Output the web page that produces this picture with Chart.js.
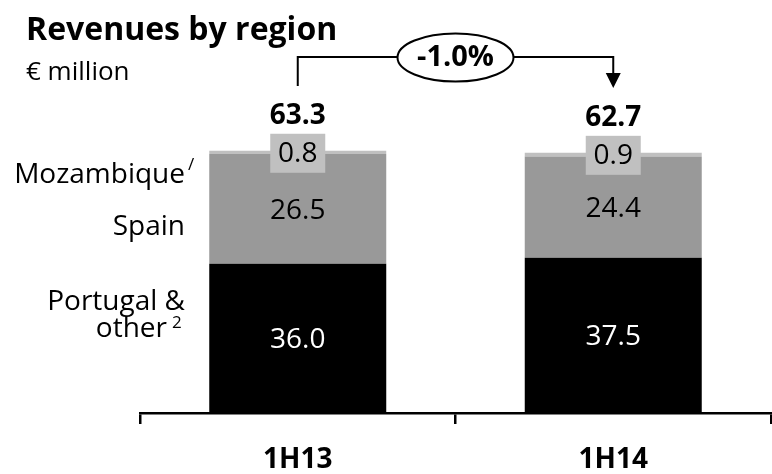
<!DOCTYPE html>
<html>
<head>
<meta charset="utf-8">
<script src="https://cdn.jsdelivr.net/npm/chart.js@4/dist/chart.umd.min.js"></script>
<style>
  html, body { margin: 0; padding: 0; background: #fff; }
  #wrap { position: relative; width: 772px; height: 474px; }
</style>
</head>
<body>
<div id="wrap"><canvas id="c" width="772" height="474"></canvas></div>
<script>
// Half-year revenue split by region (€ million)
const categories = ['1H13', '1H14'];
const portugalOther = [36.0, 37.5];
const spain = [26.5, 24.4];
const mozambique = [0.8, 0.9];
const totals = [63.3, 62.7];
const changeLabel = '-1.0%';
const regionNames = ['Portugal &', 'other', 'Spain', 'Mozambique'];

const FONT = '"Open Sans", "Noto Sans", sans-serif';
const COL_PT = '#000000';
const COL_ES = '#999999';
const COL_MZ = '#c0c0c0';

const fmt = v => v.toFixed(1);

const annotations = {
  id: 'annotations',
  afterDatasetsDraw(chart) {
    const ctx = chart.ctx;
    const y = chart.scales.y;
    const mPT = chart.getDatasetMeta(0).data;
    const mES = chart.getDatasetMeta(1).data;
    const mMZ = chart.getDatasetMeta(2).data;
    ctx.save();
    ctx.textAlign = 'center';
    ctx.textBaseline = 'middle';

    for (let i = 0; i < categories.length; i++) {
      const cx = mPT[i].x;
      // Portugal & other value (white on black)
      ctx.font = '28px ' + FONT;
      ctx.fillStyle = '#ffffff';
      ctx.fillText(fmt(portugalOther[i]), cx, (mPT[i].y + mPT[i].base) / 2 + 2);
      // Spain value
      ctx.fillStyle = '#000000';
      ctx.fillText(fmt(spain[i]), cx, (mES[i].y + mES[i].base) / 2 + 2);
      // Mozambique value on a small light box above the segment
      const top = mMZ[i].y;
      const bw = 55, bh = 39;
      ctx.fillStyle = COL_MZ;
      ctx.fillRect(cx - bw / 2, top - 17, bw, bh);
      ctx.fillStyle = '#000000';
      ctx.fillText(fmt(mozambique[i]), cx, top - 17 + bh / 2 + 1);
      // Total
      const ty = y.getPixelForValue(totals[i]);
      ctx.font = 'bold 28px ' + FONT;
      ctx.textBaseline = 'alphabetic';
      ctx.fillText(fmt(totals[i]), cx, ty - 27);
      ctx.textBaseline = 'middle';
    }

    // Region labels to the left of the first bar
    ctx.textAlign = 'right';
    ctx.textBaseline = 'alphabetic';
    ctx.fillStyle = '#000000';
    ctx.font = '28px ' + FONT;
    const lx = 185;
    ctx.fillText(regionNames[3], lx, 183);
    ctx.fillText(regionNames[2], lx, 235);
    ctx.fillText(regionNames[0], lx, 310);
    const supW = 14;
    ctx.fillText(regionNames[1], lx - supW - 4, 337);
    ctx.font = '17px ' + FONT;
    ctx.textAlign = 'left';
    ctx.fillText('2', lx - supW + 1, 328);
    ctx.fillText('/', lx + 3, 170);

    // Change bracket between the two totals
    const x0 = mPT[0].x, x1 = mPT[1].x;
    const by = 57;
    const ex = (x0 + x1) / 2, rx = 58, ry = 24;
    ctx.strokeStyle = '#000000';
    ctx.lineWidth = 2;
    ctx.beginPath();
    ctx.moveTo(x0, 86);
    ctx.lineTo(x0, by);
    ctx.lineTo(ex - rx, by);
    ctx.moveTo(ex + rx, by);
    ctx.lineTo(x1, by);
    ctx.lineTo(x1, 74);
    ctx.stroke();
    ctx.beginPath();
    ctx.moveTo(x1 - 7.5, 73);
    ctx.lineTo(x1 + 7.5, 73);
    ctx.lineTo(x1, 88);
    ctx.closePath();
    ctx.fillStyle = '#000000';
    ctx.fill();
    ctx.beginPath();
    ctx.ellipse(ex, by + 0.5, rx, ry, 0, 0, Math.PI * 2);
    ctx.fillStyle = '#ffffff';
    ctx.fill();
    ctx.stroke();
    ctx.fillStyle = '#000000';
    ctx.font = 'bold 29px ' + FONT;
    ctx.textAlign = 'center';
    ctx.textBaseline = 'middle';
    ctx.fillText(changeLabel, ex, by + 1);

    // Title and unit
    ctx.textAlign = 'left';
    ctx.textBaseline = 'alphabetic';
    ctx.font = 'bold 32px ' + FONT;
    ctx.fillText('Revenues by region', 26, 40);
    ctx.font = '26px ' + FONT;
    ctx.fillText('€ million', 26, 80);
    ctx.restore();
  }
};

new Chart(document.getElementById('c'), {
  type: 'bar',
  data: {
    labels: categories,
    datasets: [
      { label: 'Portugal & other', data: portugalOther, backgroundColor: COL_PT },
      { label: 'Spain', data: spain, backgroundColor: COL_ES },
      { label: 'Mozambique', data: mozambique, backgroundColor: COL_MZ }
    ]
  },
  options: {
    responsive: false,
    animation: false,
    devicePixelRatio: 1,
    layout: { padding: { left: 140, right: 1, top: 123, bottom: 0 } },
    datasets: { bar: { categoryPercentage: 1, barPercentage: 0.561, borderWidth: 0 } },
    plugins: { legend: { display: false }, tooltip: { enabled: false }, title: { display: false } },
    scales: {
      x: {
        stacked: true,
        afterFit(scale) { scale.height = 61; },
        grid: { offset: true, drawOnChartArea: false, drawTicks: true, tickLength: 11, color: '#000', lineWidth: 2.5 },
        border: { display: true, color: '#000', width: 2.5 },
        ticks: { color: '#000', padding: 19, font: { family: FONT, size: 28, weight: 'bold' } }
      },
      y: { stacked: true, display: false, min: 0, max: 70 }
    }
  },
  plugins: [annotations]
});
</script>
</body>
</html>
